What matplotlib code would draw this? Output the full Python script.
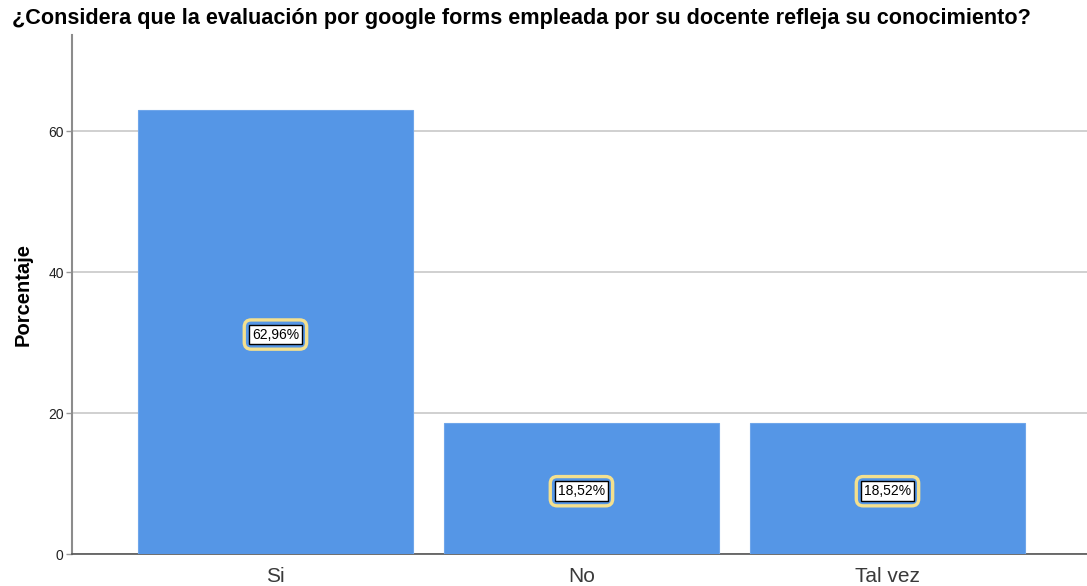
import numpy as np
import matplotlib.pyplot as plt

plt.rcParams["font.family"] = ["Liberation Sans", "DejaVu Sans"]

categories = ["Si", "No", "Tal vez"]
percentages = [62.96, 18.52, 18.52]
labels = ["62,96%", "18,52%", "18,52%"]

title = "¿Considera que la evaluación por google forms empleada por su docente refleja su conocimiento?"

fig = plt.figure(figsize=(10.87, 5.86), dpi=100)
ax = fig.add_axes([0.0662, 0.0546, 0.9338, 0.8854])

x = np.arange(len(categories))
ax.bar(x, percentages, width=0.9, color="#5596E6", edgecolor="#6fa6ea", linewidth=0.8, zorder=3)

ax.set_xlim(-0.665, 2.652)
ax.set_ylim(0, 73.6)
ax.set_yticks([0, 20, 40, 60])
ax.yaxis.grid(True, color="#c8c8c8", linewidth=1.2, zorder=0)
ax.set_axisbelow(True)

ax.set_xticks(x)
ax.set_xticklabels(categories, fontsize=15, color="#3a3a3a")
ax.tick_params(axis="x", length=0, pad=9)
ax.tick_params(axis="y", length=4, width=1, color="#999999", labelsize=10, labelcolor="#222222", pad=2)

for s in ["top", "right"]:
    ax.spines[s].set_visible(False)
ax.spines["left"].set_color("#8c8c8c")
ax.spines["left"].set_linewidth(1.5)
ax.spines["bottom"].set_color("#555555")
ax.spines["bottom"].set_linewidth(1.2)

for xi, v, lab in zip(x, percentages, labels):
    yc = v / 2 - 0.35
    # outer yellow rounded frame
    ax.text(xi, yc, lab, ha="center", va="center", fontsize=10, color="none", zorder=4,
            bbox=dict(boxstyle="round,pad=0.55,rounding_size=0.5", fc="none", ec="#f4e08e", lw=2.4))
    ax.text(xi, yc, lab, ha="center", va="center", fontsize=10, color="black", zorder=5,
            bbox=dict(boxstyle="square,pad=0.2", fc="white", ec="black", lw=1))

ax.set_ylabel("Porcentaje", fontsize=14.5, fontweight="bold", labelpad=11)
fig.text(0.011, 0.968, title, fontsize=15.6, fontweight="bold", ha="left", va="center")

fig.savefig("out.png", dpi=100)
